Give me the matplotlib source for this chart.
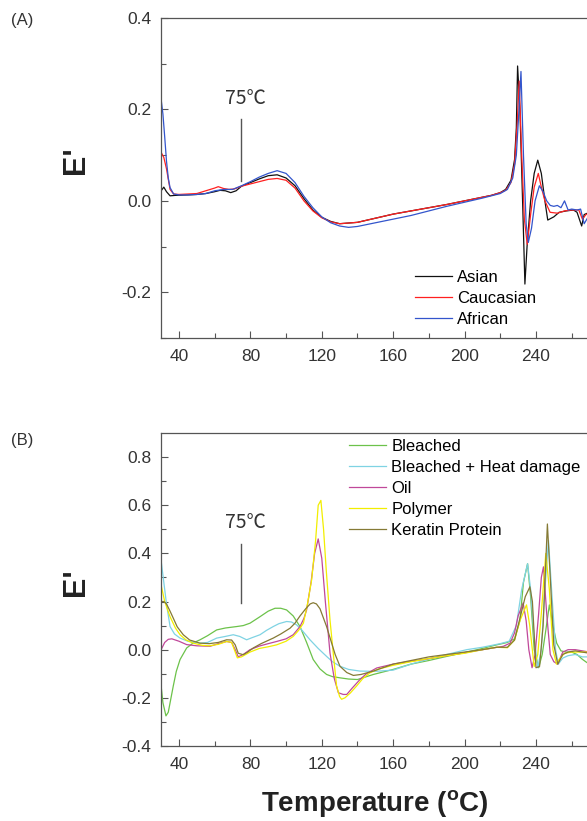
import matplotlib
matplotlib.use('Agg')
import matplotlib.pyplot as plt

plt.rcParams['font.family'] = ['Liberation Sans', 'DejaVu Sans']
plt.rcParams['mathtext.fontset'] = 'custom'
plt.rcParams['mathtext.bf'] = 'Liberation Sans:bold'
plt.rcParams['mathtext.rm'] = 'Liberation Sans'

# ---- panel A: hair by ethnicity ----
asian_x = [30, 31.5, 33, 35, 38, 45, 50, 55, 60, 63, 66, 69, 72, 75, 80, 85, 90, 95, 100,
           105, 110, 115, 120, 125, 130, 140, 150, 160, 170, 180, 190, 200, 210, 215, 220,
           223, 226, 228, 229, 229.7, 231, 232.5, 233.8, 235, 237, 239, 241, 243, 245, 246.6,
           250, 253, 257, 261, 263, 265.6, 267, 270, 275, 280]
asian_y = [0.022, 0.03, 0.02, 0.011, 0.012, 0.013, 0.014, 0.016, 0.02, 0.023, 0.022, 0.018,
           0.022, 0.032, 0.04, 0.048, 0.055, 0.057, 0.05, 0.033, 0.005, -0.02, -0.036, -0.045,
           -0.05, -0.047, -0.038, -0.029, -0.022, -0.015, -0.008, 0.0, 0.008, 0.012, 0.018,
           0.025, 0.045, 0.09, 0.16, 0.295, 0.2, 0.0, -0.182, -0.1, 0.0, 0.06, 0.089, 0.06,
           0.0, -0.042, -0.035, -0.025, -0.022, -0.02, -0.025, -0.055, -0.03, -0.025, -0.02,
           -0.02]

cauc_x = [30, 31.5, 33, 35, 37, 40, 45, 50, 55, 60, 62, 65, 68, 71, 75, 80, 85, 90, 95, 100,
          105, 110, 115, 120, 125, 130, 140, 150, 160, 170, 180, 190, 200, 210, 215, 220, 223,
          226, 228, 229.5, 230.6, 232, 233.5, 235.1, 237, 239, 241.3, 243, 245, 247.9, 252,
          256, 260, 264, 266, 268, 272, 280]
cauc_y = [0.106, 0.095, 0.07, 0.025, 0.015, 0.014, 0.015, 0.016, 0.022, 0.028, 0.031, 0.027,
          0.025, 0.026, 0.032, 0.037, 0.042, 0.047, 0.049, 0.045, 0.028, 0.0, -0.022, -0.037,
          -0.046, -0.05, -0.047, -0.038, -0.029, -0.022, -0.015, -0.008, 0.0, 0.008, 0.012,
          0.018, 0.023, 0.04, 0.08, 0.17, 0.262, 0.1, -0.04, -0.095, -0.03, 0.03, 0.06, 0.03,
          0.0, -0.025, -0.027, -0.022, -0.02, -0.02, -0.04, -0.03, -0.025, -0.02]

afr_x = [30, 31, 32, 33, 34, 35, 37, 40, 45, 50, 55, 60, 65, 70, 75, 80, 85, 90, 95, 100, 105,
         110, 115, 120, 125, 130, 135, 140, 150, 160, 170, 180, 190, 200, 210, 215, 220, 224,
         227, 229, 230.5, 231.6, 233, 234.5, 235.7, 237.5, 239.5, 241.9, 244, 246, 248, 250,
         252, 254, 256, 258, 260, 263, 265, 267, 270, 275, 280]
afr_y = [0.222, 0.19, 0.14, 0.087, 0.05, 0.029, 0.015, 0.013, 0.013, 0.014, 0.016, 0.022,
         0.025, 0.025, 0.033, 0.042, 0.052, 0.06, 0.066, 0.06, 0.04, 0.01, -0.015, -0.035,
         -0.048, -0.055, -0.058, -0.056, -0.048, -0.04, -0.032, -0.022, -0.012, -0.003, 0.006,
         0.011, 0.016, 0.025, 0.05, 0.1, 0.2, 0.283, 0.1, -0.05, -0.091, -0.06, 0.0, 0.033,
         0.02, 0.0, -0.01, -0.012, -0.01, -0.015, 0.0, -0.02, -0.018, -0.02, -0.018, -0.05,
         -0.03, -0.025, -0.02]

# ---- panel B: treated hair ----
bl_x = [30, 31, 32.7, 34, 36.8, 38.5, 40.6, 44.3, 48, 51.8, 56, 61.1, 66, 72.3, 76, 79.8, 85.4,
        90, 93.8, 97, 100.3, 104, 107.8, 111.5, 115.2, 119, 122.7, 126, 130.2, 135, 140, 148.9,
        160, 170, 180, 190, 200, 210, 218, 224, 228, 231, 233, 235.3, 237, 239, 241.5, 243.5,
        245.5, 247.5, 249.5, 251.6, 254, 257, 260, 263, 266, 268.6, 272, 280]
bl_y = [-0.151, -0.22, -0.275, -0.26, -0.151, -0.09, -0.041, 0.007, 0.028, 0.041, 0.058,
        0.082, 0.09, 0.096, 0.1, 0.11, 0.137, 0.16, 0.172, 0.172, 0.165, 0.14, 0.096, 0.03,
        -0.041, -0.08, -0.103, -0.112, -0.117, -0.122, -0.124, -0.103, -0.082, -0.06, -0.045,
        -0.028, -0.012, 0.005, 0.02, 0.03, 0.045, 0.12, 0.28, 0.357, 0.22, 0.0, -0.075, -0.02,
        0.08, 0.186, 0.1, 0.027, -0.005, -0.01, -0.01, -0.02, -0.04, -0.054, -0.05, -0.05]

blh_x = [30, 31.5, 33, 35, 37.5, 40.6, 45, 51.8, 56, 61.1, 66, 70.4, 74, 77.9, 81, 85.4, 89,
         92.8, 96, 100.3, 103, 105.9, 109, 113.4, 118, 122.7, 126, 130.2, 135, 141.4, 150, 160,
         170, 182.5, 190, 201.2, 210, 220, 225, 229, 232, 235.3, 237, 239, 241, 243, 245, 247,
         249, 251, 252.5, 255, 258, 262, 266, 270, 280]
blh_y = [0.37, 0.28, 0.19, 0.096, 0.065, 0.048, 0.035, 0.027, 0.03, 0.048, 0.055, 0.062,
         0.055, 0.041, 0.05, 0.062, 0.08, 0.096, 0.108, 0.117, 0.115, 0.103, 0.08, 0.041,
         0.005, -0.028, -0.05, -0.069, -0.082, -0.089, -0.09, -0.085, -0.06, -0.034, -0.02,
         0.0, 0.01, 0.025, 0.035, 0.1, 0.25, 0.357, 0.25, 0.05, -0.075, 0.0, 0.25, 0.454, 0.22,
         0.0, -0.06, -0.035, -0.025, -0.02, -0.03, -0.03, -0.03]

oil_x = [30, 32, 34, 36, 40, 44.3, 50, 57.4, 62, 66.7, 69.5, 71.5, 73.2, 76, 79.8, 85, 90,
         94.7, 100, 104, 107.8, 110, 111.5, 114, 116, 118, 120, 122, 124.6, 127, 129.3, 132,
         134, 137, 141.4, 145, 150.8, 160, 170, 176.9, 190, 199.3, 210, 221.7, 225.5, 228, 230,
         232.8, 234.5, 236, 237.8, 239.5, 241.5, 243, 244.2, 246, 248, 250, 252.2, 255, 258,
         262, 266, 270, 280]
oil_y = [0.0, 0.03, 0.043, 0.045, 0.035, 0.021, 0.016, 0.014, 0.025, 0.034, 0.03, 0.0, -0.03,
         -0.02, 0.0, 0.015, 0.025, 0.034, 0.045, 0.062, 0.096, 0.13, 0.165, 0.28, 0.4, 0.46,
         0.38, 0.2, -0.014, -0.12, -0.179, -0.186, -0.186, -0.16, -0.124, -0.1, -0.076, -0.06,
         -0.048, -0.041, -0.025, -0.014, 0.0, 0.014, 0.027, 0.07, 0.14, 0.194, 0.12, 0.0,
         -0.075, -0.02, 0.15, 0.3, 0.344, 0.15, -0.02, -0.05, -0.06, -0.01, 0.0, 0.0, -0.005,
         -0.01, -0.01]

poly_x = [30, 32, 35, 38, 40.6, 44, 48, 53, 57, 62, 66.7, 69.5, 71, 72.7, 75, 79.8, 85, 90,
          94.7, 100, 104, 107, 109.7, 112, 114.3, 116.5, 118, 119.5, 121, 122.5, 124.6, 126.5,
          128.3, 130, 131.1, 133, 136, 139.5, 143, 147, 152, 160, 170, 180, 190, 200, 210, 218,
          224, 228, 231, 234.7, 236.5, 239, 241, 243, 245.5, 247.5, 249.5, 251.5, 253, 256,
          260, 265, 270, 280]
poly_y = [0.268, 0.2, 0.137, 0.09, 0.062, 0.04, 0.027, 0.018, 0.016, 0.022, 0.034, 0.03, 0.0,
          -0.034, -0.03, -0.01, 0.005, 0.012, 0.02, 0.035, 0.055, 0.08, 0.11, 0.19, 0.289,
          0.45, 0.6, 0.62, 0.5, 0.33, 0.124, -0.02, -0.151, -0.195, -0.206, -0.2, -0.18,
          -0.151, -0.12, -0.096, -0.08, -0.065, -0.05, -0.037, -0.025, -0.015, 0.0, 0.01,
          0.008, 0.04, 0.12, 0.186, 0.1, -0.07, -0.02, 0.15, 0.4, 0.25, 0.0, -0.06, -0.04,
          -0.015, -0.01, -0.01, -0.01, -0.01]

ker_x = [30, 31.5, 33, 35, 36.8, 39, 42.4, 46, 51.8, 57, 62, 66.7, 69.5, 71.5, 73.2, 76, 78.5,
         81.6, 86, 92.8, 97, 102.2, 105, 107.8, 111, 113.5, 115.2, 117, 119, 120.5, 122.7, 125,
         127.5, 130.2, 134, 137.7, 142, 148.9, 160, 170, 180, 190, 200, 210, 218, 224, 228, 231,
         234, 236.6, 238, 240, 242, 244, 246.4, 248, 250, 252.2, 255, 258, 262, 266, 270, 280]
ker_y = [0.2, 0.2, 0.19, 0.16, 0.131, 0.095, 0.062, 0.04, 0.027, 0.025, 0.03, 0.041, 0.04,
         0.02, -0.015, -0.021, -0.01, 0.007, 0.025, 0.048, 0.065, 0.089, 0.11, 0.14, 0.17,
         0.19, 0.195, 0.19, 0.17, 0.14, 0.096, 0.04, -0.02, -0.069, -0.095, -0.107, -0.103,
         -0.089, -0.06, -0.045, -0.03, -0.02, -0.01, 0.0, 0.01, 0.01, 0.04, 0.13, 0.22, 0.261,
         0.2, -0.075, -0.07, 0.1, 0.522, 0.3, 0.02, -0.06, -0.02, -0.01, -0.005, -0.01, -0.015,
         -0.015]

fig = plt.figure(figsize=(5.87, 8.21), dpi=100)

# axes run past the right edge, the original picture is cropped there
ax1 = fig.add_axes([0.2745, 0.5883, 0.7602, 0.3898])
ax2 = fig.add_axes([0.2745, 0.0914, 0.7602, 0.3812])

lw = 0.9
ax1.plot(asian_x, asian_y, color='#111111', lw=lw, label='Asian')
ax1.plot(cauc_x, cauc_y, color='#ff2020', lw=lw, label='Caucasian')
ax1.plot(afr_x, afr_y, color='#3355cc', lw=lw, label='African')

ax2.plot(bl_x, bl_y, color='#6cc24a', lw=lw, label='Bleached')
ax2.plot(blh_x, blh_y, color='#7fd3e3', lw=lw, label='Bleached + Heat damage')
ax2.plot(oil_x, oil_y, color='#c0489a', lw=lw, label='Oil')
ax2.plot(poly_x, poly_y, color='#f2ee00', lw=lw, label='Polymer')
ax2.plot(ker_x, ker_y, color='#857a35', lw=lw, label='Keratin Protein')

ax1.set_ylim(-0.3, 0.4)
ax1.set_yticks([-0.2, 0.0, 0.2, 0.4])
ax1.set_yticks([-0.3, -0.1, 0.1, 0.3], minor=True)
ax2.set_ylim(-0.4, 0.9)
ax2.set_yticks([-0.4, -0.2, 0.0, 0.2, 0.4, 0.6, 0.8])
ax2.set_yticks([-0.3, -0.1, 0.1, 0.3, 0.5, 0.7], minor=True)

for ax in (ax1, ax2):
    ax.set_xlim(30, 280)
    ax.set_xticks([40, 80, 120, 160, 200, 240])
    ax.set_xticks([60, 100, 140, 180, 220, 260], minor=True)
    ax.yaxis.set_major_formatter(matplotlib.ticker.FormatStrFormatter('%.1f'))
    ax.tick_params(which='both', direction='in', color='#555555', labelcolor='#333333',
                   labelsize=12.5, width=0.8)
    ax.tick_params(which='major', length=5)
    ax.tick_params(which='minor', length=3.5)
    ax.tick_params(axis='x', pad=8)
    ax.tick_params(axis='y', pad=7)
    for s in ax.spines.values():
        s.set_color('#555555')
        s.set_linewidth(0.9)
    ax.set_ylabel("E'", fontsize=22, fontweight='bold', color='#222222')
    ax.yaxis.set_label_coords(-0.157, 0.555 if ax is ax1 else 0.524)

# 75 C markers
cjk = ['Noto Sans CJK KR', 'DejaVu Sans']
ax1.plot([75, 75], [0.044, 0.179], color='#555555', lw=1)
ax1.text(77.5, 0.223, '75℃', ha='center', va='center', fontsize=14, family=cjk, color='#333333')
ax2.plot([74.5, 74.5], [0.195, 0.437], color='#555555', lw=1)
ax2.text(77, 0.529, '75℃', ha='center', va='center', fontsize=14, family=cjk, color='#333333')

leg_kw = dict(loc='upper left', bbox_transform=fig.transFigure, frameon=False, fontsize=12,
              borderpad=0, borderaxespad=0, handlelength=2.2, handletextpad=0.33,
              labelspacing=0.36)
ax1.legend(bbox_to_anchor=(415 / 587, 1 - 270 / 821), **leg_kw)
ax2.legend(bbox_to_anchor=(349 / 587, 1 - 439 / 821), **leg_kw)

fig.text(22 / 587, 1 - 21 / 821, '(A)', ha='center', va='center', fontsize=12, color='#333333')
fig.text(22 / 587, 1 - 440 / 821, '(B)', ha='center', va='center', fontsize=12, color='#333333')

fig.text(375 / 587, 1 - 803 / 821, r'Temperature ($\mathbf{^o}$C)', ha='center', va='center',
         fontsize=20, fontweight='bold', color='#222222')

fig.savefig('out.png', dpi=100)
